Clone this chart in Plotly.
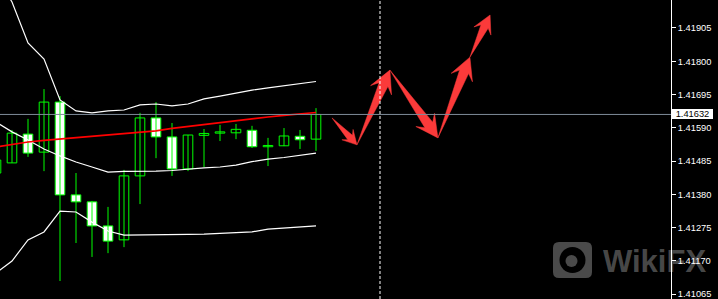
import math
import plotly.graph_objects as go

# ---------------- data ----------------
bar_index = list(range(21))
opens  = [1.41447, 1.41479, 1.41570, 1.41513, 1.41671, 1.41378, 1.41356, 1.41280, 1.41236, 1.41438, 1.41621,
          1.41561, 1.41460, 1.41566, 1.41573, 1.41574, 1.41582, 1.41530, 1.41533, 1.41563, 1.41554]
highs  = [1.41504, 1.41583, 1.41618, 1.41712, 1.41690, 1.41447, 1.41359, 1.41340, 1.41457, 1.41637, 1.41671,
          1.41605, 1.41567, 1.41586, 1.41599, 1.41602, 1.41596, 1.41558, 1.41589, 1.41583, 1.41652]
lows   = [1.41431, 1.41479, 1.41498, 1.41453, 1.41106, 1.41226, 1.41182, 1.41194, 1.41213, 1.41349, 1.41494,
          1.41438, 1.41453, 1.41466, 1.41548, 1.41554, 1.41526, 1.41469, 1.41532, 1.41523, 1.41517]
closes = [1.41488, 1.41573, 1.41510, 1.41671, 1.41378, 1.41356, 1.41280, 1.41232, 1.41438, 1.41621, 1.41561,
          1.41460, 1.41567, 1.41572, 1.41577, 1.41585, 1.41530, 1.41534, 1.41564, 1.41552, 1.41632]

band_upper  = [1.42072, 1.41987, 1.41858, 1.41807, 1.41678, 1.41643, 1.41637, 1.41643, 1.41646, 1.41662, 1.41665,
               1.41659, 1.41665, 1.41681, 1.41690, 1.41700, 1.41709, 1.41716, 1.41722, 1.41728, 1.41736]
band_middle = [1.41608, 1.41577, 1.41551, 1.41523, 1.41501, 1.41482, 1.41466, 1.41450, 1.41452, 1.41452, 1.41453,
               1.41455, 1.41460, 1.41463, 1.41466, 1.41472, 1.41483, 1.41491, 1.41496, 1.41504, 1.41510]
band_lower  = [1.41131, 1.41169, 1.41236, 1.41261, 1.41327, 1.41324, 1.41292, 1.41264, 1.41251, 1.41251, 1.41251,
               1.41251, 1.41253, 1.41254, 1.41256, 1.41258, 1.41261, 1.41270, 1.41273, 1.41277, 1.41280]
ma_red      = [1.41529, 1.41537, 1.41545, 1.41550, 1.41554, 1.41559, 1.41562, 1.41566, 1.41570, 1.41575, 1.41580,
               1.41588, 1.41594, 1.41602, 1.41608, 1.41613, 1.41618, 1.41624, 1.41629, 1.41633, 1.41638]

current_price = 1.41632
separator_bar = 24

# forecast zig-zag (bar position, price)
arrow_x = [21.0, 22.56, 24.62, 27.62, 29.62, 30.88]
arrow_y = [1.41621, 1.41536, 1.41772, 1.41558, 1.41813, 1.41946]

tick_values = [1.41065, 1.41170, 1.41275, 1.41380, 1.41485, 1.41590, 1.41695, 1.41800, 1.41905]

# ---------------- layout geometry ----------------
W, H = 718, 299
ML, MR, MT, MB = 0, 47, 0, 0
PW, PH = W - ML - MR, H - MT - MB
X_RANGE = [0.25, 0.25 + PW / 16.0]
Y_RANGE = [1.410492, 1.419934]


def to_px(x, y):
    px = (x - X_RANGE[0]) / (X_RANGE[1] - X_RANGE[0]) * PW
    py = (Y_RANGE[1] - y) / (Y_RANGE[1] - Y_RANGE[0]) * PH
    return px, py


def from_px(px, py):
    x = X_RANGE[0] + px / PW * (X_RANGE[1] - X_RANGE[0])
    y = Y_RANGE[1] - py / PH * (Y_RANGE[1] - Y_RANGE[0])
    return x, y


fig = go.Figure()

# ---------------- arrows (drawn first, under everything) ----------------
ARROW_COLOR = "#fb3a3a"
for k in range(len(arrow_x) - 1):
    p = to_px(arrow_x[k], arrow_y[k])
    q = to_px(arrow_x[k + 1], arrow_y[k + 1])
    dx, dy = q[0] - p[0], q[1] - p[1]
    L = math.hypot(dx, dy)
    ux, uy = dx / L, dy / L
    nx, ny = -uy, ux
    hl = min(22.0, 0.38 * L)
    wh = hl * 0.95 + 2
    ws = 0.42 * wh
    hn = 0.72 * hl
    pts = [
        p,
        (q[0] - ux * hn + nx * ws / 2, q[1] - uy * hn + ny * ws / 2),
        (q[0] - ux * hl + nx * wh / 2, q[1] - uy * hl + ny * wh / 2),
        q,
        (q[0] - ux * hl - nx * wh / 2, q[1] - uy * hl - ny * wh / 2),
        (q[0] - ux * hn - nx * ws / 2, q[1] - uy * hn - ny * ws / 2),
        p,
    ]
    data_pts = [from_px(a, b) for a, b in pts]
    fig.add_trace(go.Scatter(
        x=[a for a, _ in data_pts], y=[b for _, b in data_pts],
        mode="lines", fill="toself", fillcolor=ARROW_COLOR,
        line=dict(color=ARROW_COLOR, width=0.5), hoverinfo="skip", showlegend=False))

# ---------------- candles ----------------
GREEN = "#00ff00"
wx, wy = [], []
for i, h, l in zip(bar_index, highs, lows):
    wx += [i, i, None]
    wy += [l, h, None]
fig.add_trace(go.Scatter(x=wx, y=wy, mode="lines", line=dict(color=GREEN, width=1),
                         hoverinfo="skip", showlegend=False))

bull = [(i, o, c) for i, o, c in zip(bar_index, opens, closes) if c >= o]
bear = [(i, o, c) for i, o, c in zip(bar_index, opens, closes) if c < o]
for group, fillc in ((bull, "#000000"), (bear, "#ffffff")):
    fig.add_trace(go.Bar(
        x=[g[0] for g in group],
        y=[g[2] - g[1] for g in group],
        base=[g[1] for g in group],
        width=0.6,
        marker=dict(color=fillc, line=dict(color=GREEN, width=1)),
        hoverinfo="skip", showlegend=False))

# ---------------- indicator lines ----------------
for series, col, w in ((band_upper, "#ffffff", 1.2), (band_middle, "#ffffff", 1.2),
                       (band_lower, "#ffffff", 1.2), (ma_red, "#ff0000", 1.6)):
    fig.add_trace(go.Scatter(x=bar_index, y=series, mode="lines",
                             line=dict(color=col, width=w), hoverinfo="skip", showlegend=False))

# ---------------- shapes ----------------
fig.add_shape(type="line", xref="paper", x0=0, x1=1, yref="y", y0=current_price, y1=current_price,
              line=dict(color="#7f8c9a", width=1), layer="above")
fig.add_shape(type="line", xref="x", x0=separator_bar, x1=separator_bar, yref="paper", y0=0, y1=1,
              line=dict(color="#ffffff", width=1, dash="3px,2px"), layer="above")

# watermark icon (pixel geometry converted to paper coords)
def pp(px, py):
    return px / PW, 1 - py / PH

WM = "rgba(255,255,255,0.29)"
x0, y0, x1, y1, r = 553, 242, 592, 278, 6
path_pts = [
    ("M", (x0 + r, y0)), ("L", (x1 - r, y0)), ("Q", (x1, y0), (x1, y0 + r)), ("L", (x1, y1 - r)),
    ("Q", (x1, y1), (x1 - r, y1)), ("L", (x0 + r, y1)), ("Q", (x0, y1), (x0, y1 - r)),
    ("L", (x0, y0 + r)), ("Q", (x0, y0), (x0 + r, y0)),
]
path = ""
for item in path_pts:
    cmd = item[0]
    coords = " ".join("%.5f,%.5f" % pp(*c) for c in item[1:])
    path += cmd + coords + " "
path += "Z"
fig.add_shape(type="path", path=path, xref="paper", yref="paper", fillcolor=WM,
              line=dict(width=0), layer="above")
cx, cy, cr = 572.5, 260, 13
fig.add_shape(type="circle", xref="paper", yref="paper",
              x0=pp(cx - cr, cy)[0], x1=pp(cx + cr, cy)[0], y0=pp(cx, cy + cr)[1], y1=pp(cx, cy - cr)[1],
              fillcolor="#000000", line=dict(width=0), layer="above")
cr2 = 6
fig.add_shape(type="circle", xref="paper", yref="paper",
              x0=pp(cx - 1 - cr2, cy)[0], x1=pp(cx - 1 + cr2, cy)[0],
              y0=pp(cx, cy + 1 + cr2)[1], y1=pp(cx, cy + 1 - cr2)[1],
              fillcolor=WM, line=dict(width=0), layer="above")

# ---------------- annotations ----------------
fig.add_annotation(xref="paper", yref="paper", x=pp(601, 0)[0], y=pp(0, 261)[1],
                   xanchor="left", yanchor="middle", text="<b>WikiFX</b>", showarrow=False,
                   font=dict(family="Liberation Sans, Arial, sans-serif", size=31, color=WM))
fig.add_annotation(xref="paper", x=1, xanchor="left", xshift=1, yref="y", y=current_price,
                   yanchor="middle", text="%.5f" % current_price, showarrow=False,
                   bgcolor="#ffffff", borderpad=1, borderwidth=0, width=39, height=8,
                   font=dict(family="Liberation Sans, Arial, sans-serif", size=9.3, color="#000000"))

fig.update_layout(
    width=W, height=H, autosize=False,
    margin=dict(l=ML, r=MR, t=MT, b=MB, pad=0),
    paper_bgcolor="#000000", plot_bgcolor="#000000",
    barmode="overlay", showlegend=False,
    xaxis=dict(range=X_RANGE, visible=False, fixedrange=True),
    yaxis=dict(range=Y_RANGE, side="right", showgrid=False, zeroline=False,
               showline=True, linecolor="#ffffff", linewidth=1,
               ticks="outside", ticklen=4, tickcolor="#ffffff", tickwidth=1,
               ticklabeloverflow="allow",
               tickvals=tick_values, ticktext=["%.5f" % v for v in tick_values],
               tickfont=dict(family="Liberation Sans, Arial, sans-serif", size=9.3, color="#ffffff"),
               fixedrange=True),
)

fig.write_html("out.html")
